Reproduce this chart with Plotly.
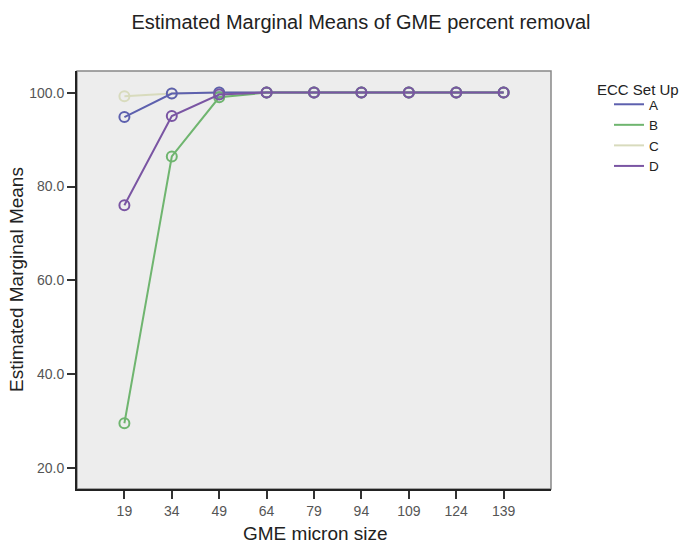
import plotly.graph_objects as go

sizes = ["19", "34", "49", "64", "79", "94", "109", "124", "139"]
series_names = ["A", "B", "C", "D"]
vals_A = [94.8, 99.8, 100.0, 100.0, 100.0, 100.0, 100.0, 100.0, 100.0]
vals_B = [29.6, 86.4, 99.0, 100.0, 100.0, 100.0, 100.0, 100.0, 100.0]
vals_C = [99.2, 99.8, 100.0, 100.0, 100.0, 100.0, 100.0, 100.0, 100.0]
vals_D = [76.0, 95.0, 99.6, 100.0, 100.0, 100.0, 100.0, 100.0, 100.0]
y_ticks = [20, 40, 60, 80, 100]
y_labels = ["20.0", "40.0", "60.0", "80.0", "100.0"]

colors = {"A": "#5d60ae", "B": "#6fb56f", "C": "#d8dbbd", "D": "#7a55a3"}
all_vals = {"A": vals_A, "B": vals_B, "C": vals_C, "D": vals_D}

W, H = 681, 543
L, R, T, B = 77, 551, 71, 489  # plot area in pixels
PW, PH = R - L, B - T


def px(xs):
    return (xs - L) / PW


def py(ys):
    return (B - ys) / PH


fig = go.Figure()
for name in ["C", "A", "B", "D"]:
    fig.add_trace(go.Scatter(
        x=sizes, y=all_vals[name], mode="lines+markers", name=name,
        line=dict(color=colors[name], width=2),
        marker=dict(symbol="circle-open", size=10, color=colors[name], line=dict(width=2)),
        showlegend=False,
    ))
for name in series_names:
    fig.add_trace(go.Scatter(
        x=[None], y=[None], mode="lines", name=name,
        line=dict(color=colors[name], width=2),
        showlegend=True,
    ))

fig.update_layout(
    width=W, height=H,
    margin=dict(l=L, r=W - R, t=T, b=H - B),
    paper_bgcolor="white",
    plot_bgcolor="#ededed",
    font=dict(family="Liberation Sans, Arial, sans-serif", color="#333333"),
    title=dict(text="Estimated Marginal Means of GME percent removal",
               xref="container", x=361 / W, xanchor="center",
               yref="container", y=1 - 22 / H, yanchor="middle",
               font=dict(size=20, color="#222222")),
    xaxis=dict(
        type="category", range=[-1, 9], categoryorder="array", categoryarray=sizes,
        showgrid=False, zeroline=False, automargin=False,
        showline=True, linecolor="#222222", linewidth=2,
        ticks="outside", ticklen=8, tickwidth=2, tickcolor="#333333",
        tickfont=dict(size=14, color="#555555"),
    ),
    yaxis=dict(
        range=[15.6, 104.6], tickvals=y_ticks, ticktext=y_labels,
        showgrid=False, zeroline=False, automargin=False,
        showline=True, linecolor="#222222", linewidth=2,
        ticks="outside", ticklen=8, tickwidth=2, tickcolor="#333333",
        tickfont=dict(size=14, color="#555555"),
    ),
    legend=dict(
        x=px(609), xanchor="left",
        y=py(89), yanchor="top",
        font=dict(size=13.5, color="#222222"),
        tracegroupgap=0, itemwidth=30,
        bgcolor="rgba(0,0,0,0)",
    ),
    annotations=[
        dict(text="ECC Set Up", xref="paper", yref="paper",
             x=px(595), y=py(90), xanchor="left", yanchor="middle",
             showarrow=False, font=dict(size=15, color="#222222")),
        dict(text="GME micron size", xref="paper", yref="paper",
             x=px(315), y=py(533), xanchor="center", yanchor="middle",
             showarrow=False, font=dict(size=19, color="#222222")),
        dict(text="Estimated Marginal Means", xref="paper", yref="paper",
             x=px(16), y=py(280), xanchor="center", yanchor="middle",
             textangle=-90, showarrow=False, font=dict(size=19, color="#222222")),
    ],
    shapes=[dict(type="rect", xref="paper", yref="paper", x0=0, y0=0, x1=1, y1=1,
                 line=dict(color="#888888", width=1.5), layer="below")],
)

fig.write_html("out.html", config={"displayModeBar": False},
               post_script="document.body.style.margin='0';document.body.style.overflow='hidden';")
